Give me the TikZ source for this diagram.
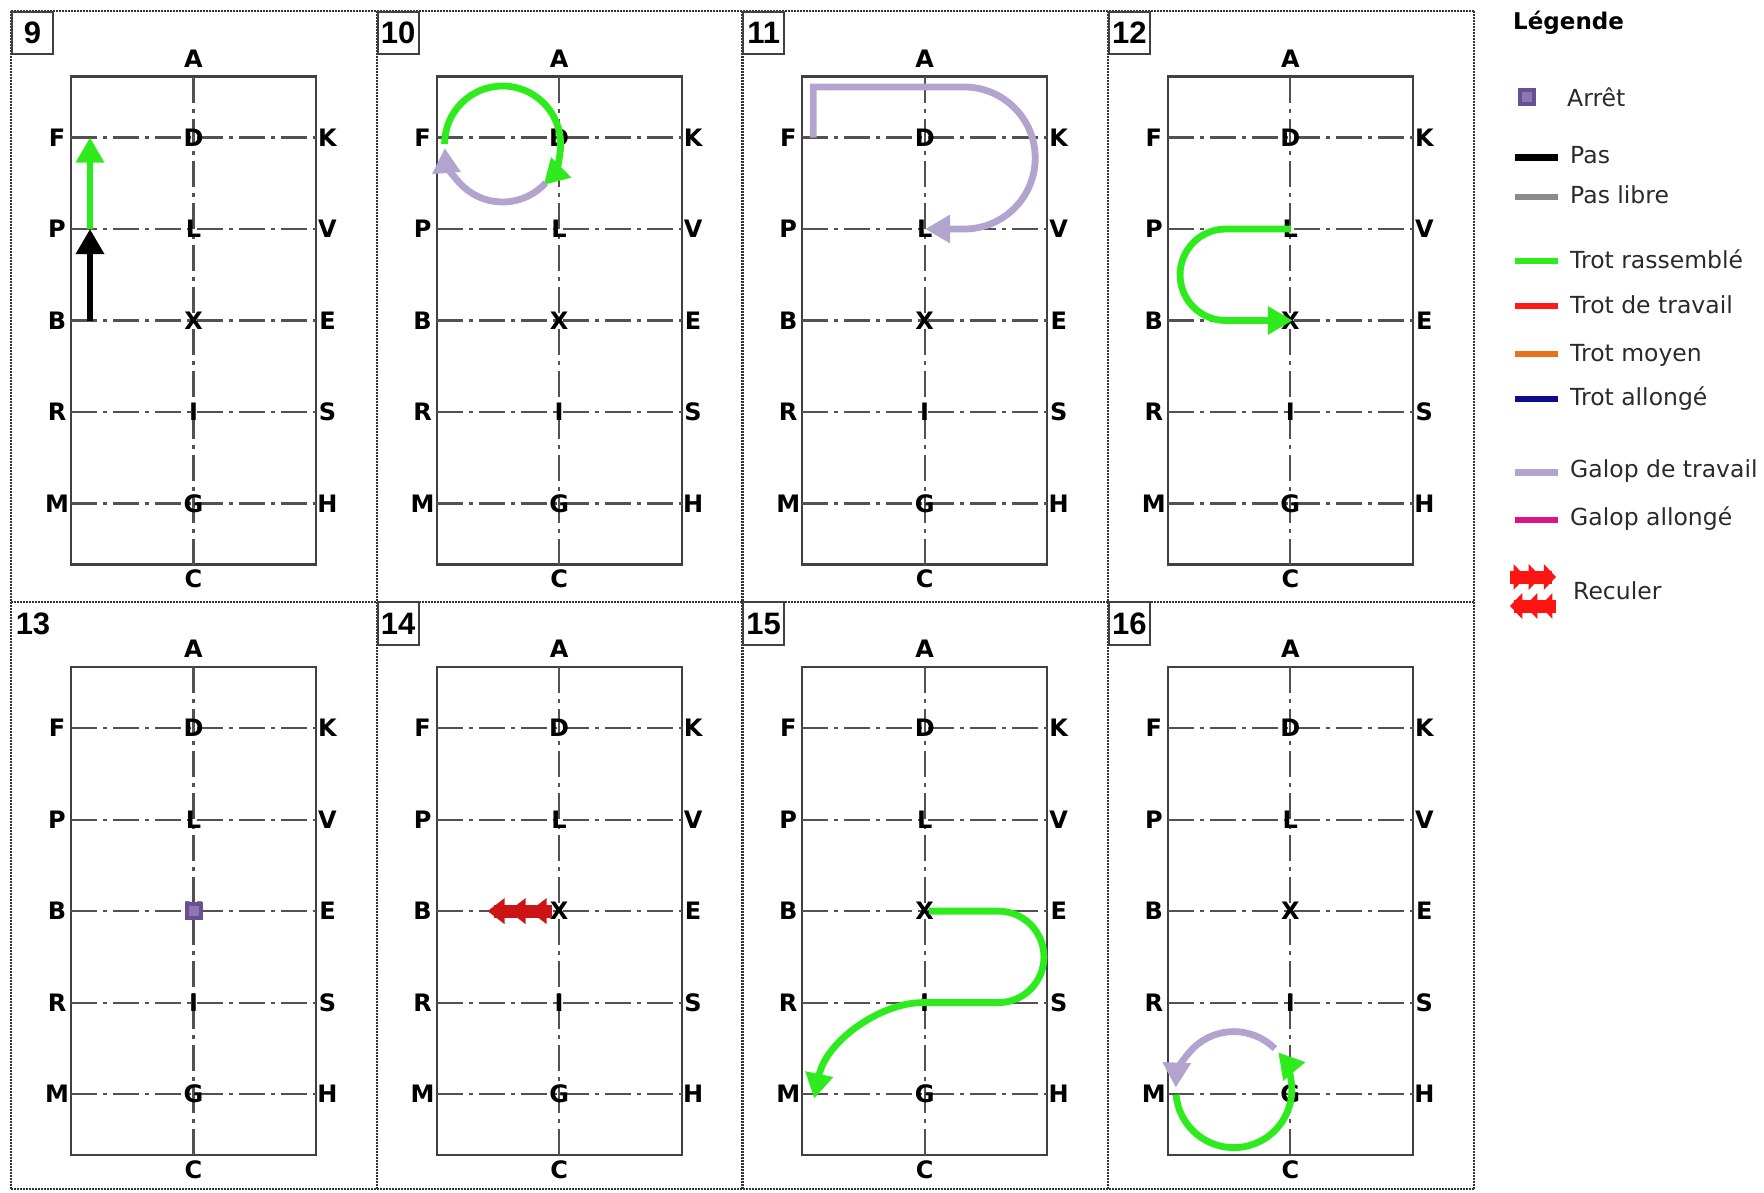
\documentclass[tikz,border=0pt]{standalone}
\usepackage{fontspec}
\setmainfont{DejaVu Sans}
\newfontfamily\numfont{Liberation Sans}
\usetikzlibrary{arrows.meta,calc}
\definecolor{trotR}{HTML}{2EEB1E}
\definecolor{galopT}{HTML}{B3A3CF}
\definecolor{trotT}{HTML}{FF1A1A}
\definecolor{trotM}{HTML}{E8731A}
\definecolor{trotA}{HTML}{0D0D8C}
\definecolor{galopA}{HTML}{DD1188}
\definecolor{pasL}{HTML}{8A8A8A}
\definecolor{arret}{HTML}{6A4F93}
\definecolor{arretin}{HTML}{8D76B5}
\definecolor{reculD}{HTML}{CC1414}
\definecolor{reculL}{HTML}{FF1414}
\definecolor{legtext}{HTML}{2A2A2A}
\tikzset{
  panelborder/.style={draw=black!80, line width=2.2pt, dash pattern=on 2pt off 1pt},
  arenabox/.style={draw=black!75, line width=2.2pt},
  axisline/.style={draw=black!68, line width=2.2pt, dash pattern=on 26pt off 6pt on 4pt off 6pt},
  letter/.style={font=\fontsize{24}{24}\selectfont\bfseries, inner sep=0pt, text=black},
  numlab/.style={font=\numfont\bfseries\fontsize{31}{31}\selectfont, inner sep=0pt},
  labbox/.style={draw=black!75, line width=2pt},
  gait/.style={line width=6.8pt},
  tip/.style={-{Triangle[length=25pt,width=27pt]}},
  legline/.style={line width=6.5pt},
  legtxt/.style={anchor=west, inner sep=0pt, text=legtext, font=\fontsize{23.5}{24}\selectfont, text height=0.72em, text depth=0pt},
  arretsq/.style={draw=arret, fill=arretin, line width=4pt, minimum size=14pt, inner sep=0pt},
  recul/.pic={
    \fill (6,6.5) rectangle (64,-6.5);
    \foreach \t in {0,21,42} \fill (\t,0) -- (\t+17,13) -- (\t+17,-13) -- cycle;
  }
}
\newcommand\manege[3]{%
\begin{scope}[shift={(#1,-#2)}]
 \draw[arenabox] (71,-76.5) rectangle (316,-564.5);
 \foreach \yy in {137.5,229,320.5,412,503.5} \draw[axisline] (71,-\yy) -- (316,-\yy);
 \draw[axisline] (193.5,-76.5) -- (193.5,-564.5);
 \node[letter] (#3A) at (193.5,-58.5) {A};
 \node[letter] (#3C) at (193.5,-579) {C};
 \foreach \yy/\lL/\cL/\rL in {137.5/F/D/K, 229/P/L/V, 320.5/B/X/E, 412/R/I/S, 503.5/M/G/H}{
   \node[letter] (#3\lL) at (57,-\yy) {\lL};
   \node[letter] (#3\cL) at (193.5,-\yy) {\cL};
   \node[letter] (#3\rL) at (327.5,-\yy) {\rL};
 }
\end{scope}}
\begin{document}
\begin{tikzpicture}[x=1pt,y=1pt]
\useasboundingbox (0,0) rectangle (1764,-1192);
% panel grid
\foreach \xx in {11.25,376.85,742.45,1108.05,1473.65} \draw[panelborder] (\xx,-11.25) -- (\xx,-1189);
\foreach \yy in {11.25,601.85,1189} \draw[panelborder] (11.25,-\yy) -- (1473.65,-\yy);
% arenas
\manege{0}{0}{a}
\manege{365.6}{0}{b}
\manege{731.2}{0}{c}
\manege{1096.8}{0}{d}
\manege{0}{590.6}{e}
\manege{365.6}{590.6}{f}
\manege{731.2}{590.6}{g}
\manege{1096.8}{590.6}{h}
% panel numbers
\foreach \dx/\dy/\num/\nm in {0/0/9/na, 365.6/0/10/nb, 731.2/0/11/nc, 1096.8/0/12/nd, 365.6/590.6/14/nf, 731.2/590.6/15/ng, 1096.8/590.6/16/nh}{
  \begin{scope}[shift={(\dx,-\dy)}]
    \draw[labbox, fill=white] (12,-11.5) rectangle (53,-54);
    \node[numlab] (\nm) at (32.5,-33) {\num};
  \end{scope}
}
\node[numlab] (ne) at (33,-623.6) {13};
% panel 9
\draw[gait, black, tip] (90,-320.5) -- (90,-229);
\draw[gait, trotR, tip] (90,-229) -- (90,-137.5);
% panel 10
\begin{scope}[shift={(365.6,0)}]
  \draw[gait, trotR, tip] (79,-144) arc[start angle=180, end angle=-45, radius=58];
  \draw[gait, galopT, tip] ($(137,-144)+(-42:58)$) arc[start angle=-42, end angle=-176, radius=58];
\end{scope}
% panel 11
\begin{scope}[shift={(731.2,0)}]
  \draw[gait, galopT, tip] (82,-137.5) -- (82,-87) -- (233,-87) arc[start angle=90, end angle=-90, radius=71] -- (194,-229);
\end{scope}
% panel 12
\begin{scope}[shift={(1096.8,0)}]
  \draw[gait, trotR, tip] (194,-229) -- (129,-229) arc[start angle=90, end angle=270, radius=45.75] -- (196,-320.5);
\end{scope}
% panel 13
\node[arretsq] (arretE) at (193.5,-911.1) {};
% panel 14
\pic[color=reculD] at (487.6,-911.1) {recul};
% panel 15
\begin{scope}[shift={(731.2,-590.6)}]
  \draw[gait, trotR, tip] (198,-320.5) -- (267,-320.5) arc[start angle=90, end angle=-90, radius=45.75] -- (191,-412) .. controls (150,-412) and (95,-450) .. (83,-508);
\end{scope}
% panel 16
\begin{scope}[shift={(1096.8,-590.6)}]
  \draw[gait, galopT, tip] ($(137,-499)+(45:58)$) arc[start angle=45, end angle=178, radius=58];
  \draw[gait, trotR, tip] ($(137,-499)+(185:58)$) arc[start angle=185, end angle=400, radius=58];
\end{scope}
% legend
\node[anchor=west, inner sep=0pt, text=black, font=\fontsize{23}{24}\selectfont\bfseries, text height=0.72em, text depth=0pt] (legTitle) at (1513,-26) {Légende};
\node[arretsq] (legArret) at (1527,-97) {};
\node[legtxt] (tArret) at (1567,-103) {Arrêt};
\draw[legline, black] (1515,-157.5) -- (1558,-157.5);
\node[legtxt] (tPas) at (1570,-160) {Pas};
\draw[legline, pasL] (1515,-197) -- (1558,-197);
\node[legtxt] (tPasL) at (1570,-199.5) {Pas libre};
\draw[legline, trotR] (1515,-261) -- (1558,-261);
\node[legtxt] (tTR) at (1570,-265) {Trot rassemblé};
\draw[legline, trotT] (1515,-306) -- (1558,-306);
\node[legtxt] (tTT) at (1570,-310) {Trot de travail};
\draw[legline, trotM] (1515,-354) -- (1558,-354);
\node[legtxt] (tTM) at (1570,-358) {Trot moyen};
\draw[legline, trotA] (1515,-399) -- (1558,-399);
\node[legtxt] (tTA) at (1570,-402) {Trot allongé};
\draw[legline, galopT] (1515,-472.5) -- (1558,-472.5);
\node[legtxt] (tGT) at (1570,-474) {Galop de travail};
\draw[legline, galopA] (1515,-520) -- (1558,-520);
\node[legtxt] (tGA) at (1570,-522) {Galop allongé};
\pic[color=reculL, xscale=-0.72] at (1556,-577) {recul};
\pic[color=reculL, xscale=0.72] at (1510,-606) {recul};
\node[legtxt] (tRec) at (1573,-596) {Reculer};
\end{tikzpicture}
\end{document}
